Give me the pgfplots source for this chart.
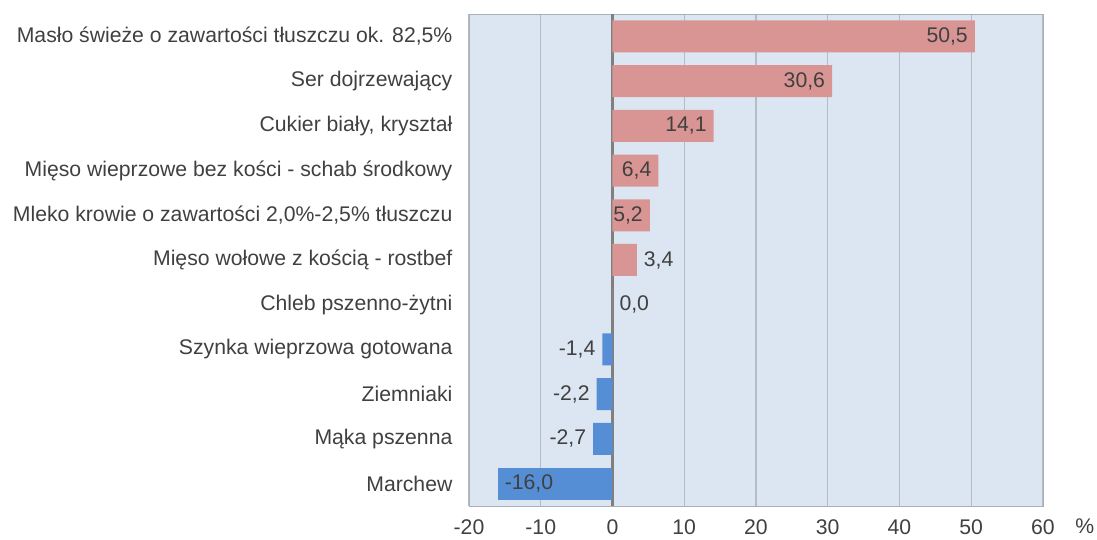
\documentclass[border=0pt]{standalone}
\usepackage{fontspec}
\setmainfont{Liberation Sans}
\usepackage{pgfplots}
\usepackage{pgfplotstable}
\pgfplotsset{compat=1.18}
\definecolor{pinkbar}{HTML}{D99594}
\definecolor{bluebar}{HTML}{558ED5}
\definecolor{bgc}{HTML}{DCE6F2}
\definecolor{gridc}{HTML}{B4BCC6}
\definecolor{txt}{HTML}{404040}
\pgfplotstableread{
y x label
10 50.5 {50,5}
9 30.6 {30,6}
8 14.1 {14,1}
7 6.4 {6,4}
6 5.2 {5,2}
}\posin
\pgfplotstableread{
y x label
5 3.4 {3,4}
4 0.0 {0,0}
}\posout
\pgfplotstableread{
y x label
3 -1.4 {-1,4}
2 -2.2 {-2,2}
1 -2.7 {-2,7}
}\negout
\pgfplotstableread{
y x label
0 -16.0 {-16,0}
}\negin
\begin{document}
\begin{tikzpicture}[font=\fontsize{10.6}{12.7}\selectfont]
\useasboundingbox (-234.5pt,-17pt) rectangle (314pt,253pt);
\begin{axis}[
  at={(0,0)}, anchor=south west,
  scale only axis,
  width=287pt, height=246pt,
  xmin=-20, xmax=60, ymin=-0.5, ymax=10.5,
  xtick={-20,-10,...,60},
  ytick={0,...,10},
  yticklabels={Marchew,Mąka pszenna,Ziemniaki,Szynka wieprzowa gotowana,Chleb pszenno-żytni,Mięso wołowe z kością - rostbef,Mleko krowie o zawartości 2{,}0\%-2{,}5\% tłuszczu,Mięso wieprzowe bez kości - schab środkowy,{Cukier biały, kryształ},Ser dojrzewający,Masło świeże o zawartości tłuszczu ok. 82{,}5\%},
  /pgf/number format/assume math mode=true,
  tick style={draw=none},
  axis background/.style={fill=bgc},
  axis line style={draw=gridc!80!gray},
  xmajorgrids, grid style={draw=gridc, line width=0.6pt},
  extra x ticks={0}, extra x tick labels={},
  extra x tick style={grid style={draw=gray, line width=1.5pt}},
  ticklabel style={text=txt, font=\fontsize{10.6}{12.7}\selectfont},
  xticklabel style={yshift=-3.5pt},
  yticklabel style={xshift=-0.5pt},
  xlabel={\%}, xlabel style={at={(rel axis cs:1,0)}, anchor=north west, xshift=16pt, yshift=-6pt, text=txt, inner sep=0pt},
  xbar, bar width=16pt, bar shift=0pt,
  nodes near coords,
  point meta=explicit symbolic,
  nodes near coords style={text=txt, font=\fontsize{10.6}{12.7}\selectfont},
]
\addplot[fill=pinkbar, draw=none, every node near coord/.append style={anchor=east}] table[x=x, y=y, meta=label] {\posin};
\addplot[fill=pinkbar, draw=none, every node near coord/.append style={anchor=west}] table[x=x, y=y, meta=label] {\posout};
\addplot[fill=bluebar, draw=none, every node near coord/.append style={anchor=east}] table[x=x, y=y, meta=label] {\negout};
\addplot[fill=bluebar, draw=none, every node near coord/.append style={anchor=west}] table[x=x, y=y, meta=label] {\negin};
\end{axis}
\end{tikzpicture}
\end{document}
